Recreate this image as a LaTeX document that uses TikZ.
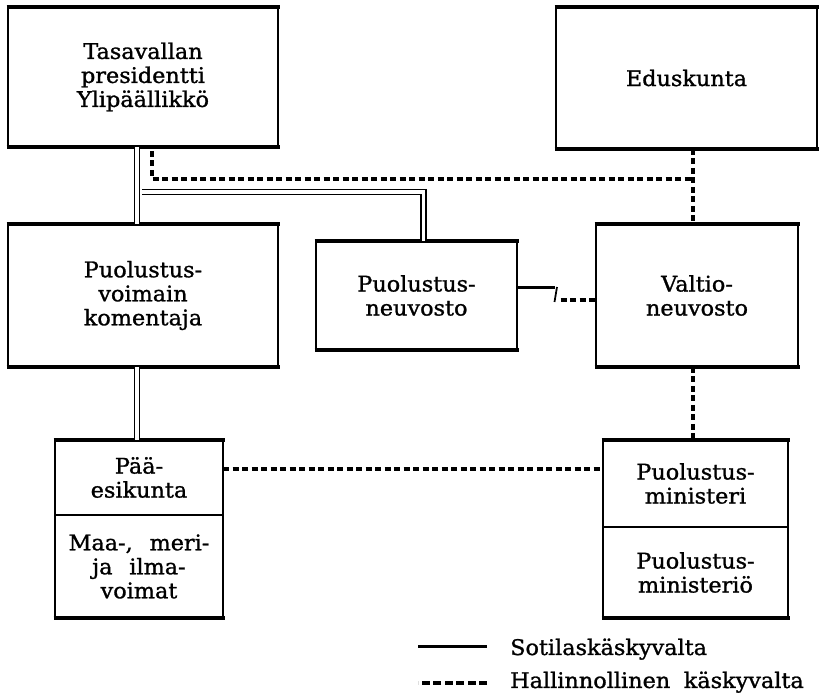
\documentclass[tikz,border=0pt]{standalone}
\usepackage{fontspec}
\setmainfont{DejaVu Serif}[FakeStretch=1.04, BoldFont=DejaVu Serif, BoldFeatures={FakeBold=1.2}]
\begin{document}
\begin{tikzpicture}[x=1pt,y=1pt,
  txt/.style={font=\fontsize{21.5}{24}\selectfont\bfseries},
  box/.style={txt, draw, line width=2.2pt, rectangle, inner sep=0pt, outer sep=0pt, align=center},
  rim/.style={line width=3.6pt},
  dbl/.style={double, double distance=3.6pt, line width=1.6pt},
  dsh/.style={line width=3.2pt, dash pattern=on 6pt off 3.5pt},
  solidln/.style={line width=3pt},
]
\useasboundingbox (0,0) rectangle (820,693);

% organisation boxes
\node[box, minimum width=270, minimum height=140] (pres) at (143,616) {Tasavallan\\presidentti\\Ylipäällikkö};
\node[box, minimum width=261, minimum height=142] (edu) at (686.5,615) {Eduskunta};
\node[box, minimum width=270, minimum height=143] (kom) at (143,397.5) {Puolustus-\\voimain\\komentaja};
\node[box, minimum width=201, minimum height=109] (neu) at (416.5,397.5) {Puolustus-\\neuvosto};
\node[box, minimum width=202, minimum height=143] (valt) at (697,397.5) {Valtio-\\neuvosto};

% two-part boxes
\node[box, minimum width=168, minimum height=75] (pe) at (139,215.5) {Pää-\\esikunta};
\node[box, minimum width=168, minimum height=103] (mmi) at (139,126.5) {Maa-,\hspace{0.45em} meri-\\ja\hspace{0.45em} ilma-\\voimat};
\node[box, minimum width=185, minimum height=87] (pm) at (695.5,209.5) {Puolustus-\\ministeri};
\node[box, minimum width=185, minimum height=91] (pmo) at (695.5,120.5) {Puolustus-\\ministeriö};

% heavier top and bottom rules of the boxes
\foreach \n in {pres,edu,kom,neu,valt,pe,pm}
  \draw[rim] ([xshift=-1.5pt]\n.north west) -- ([xshift=1.5pt]\n.north east);
\foreach \n in {pres,edu,kom,neu,valt,mmi,pmo}
  \draw[rim] ([xshift=-1.5pt]\n.south west) -- ([xshift=1.5pt]\n.south east);

% military chain of command (double lines)
\draw[dbl] ([xshift=-6pt]pres.south) -- ([xshift=-6pt]kom.north);
\coordinate (by) at (0,501);
\path ([xshift=-1pt]pres.south) coordinate (pb);
\draw[dbl] (pb |- by) -| ([xshift=7pt]neu.north);
\path ([xshift=-6pt]kom.south) coordinate (ks);
\draw[dbl] (ks) -- (ks |- pe.north);

% administrative chain of command (dashed lines)
\path ([xshift=6.5pt]edu.south) coordinate (d0);
\coordinate (dy) at (0,514);
\draw[dsh] (d0) -- (d0 |- valt.north);
\draw[dsh] ([xshift=9pt,yshift=-4pt]pres.south) |- (d0 |- dy);
\draw[dsh] (d0 |- valt.south) -- (d0 |- pm.north);
\path ([yshift=8.5pt]pe.east) coordinate (pee);
\draw[dsh] (pee) -- (pee -| pm.west);

% link between the defence council and the government
\draw[solidln] ([yshift=7.5pt]neu.east) -- ++(38,0) coordinate (k1);
\draw[line width=1.8pt] ([xshift=2pt,yshift=1pt]k1) -- ++(-2.5,-15) coordinate (k2);
\coordinate (k3) at ([xshift=6pt,yshift=2pt]k2);
\draw[dsh] (k3) -- (k3 -| valt.west);

% legend
\node[txt, anchor=base west, inner sep=0pt] (leg1) at (510,38) {Sotilaskäskyvalta};
\node[txt, anchor=base west, inner sep=0pt] (leg2) at (510,5) {Hallinnollinen\hspace{0.3em} käskyvalta};
\draw[solidln] ([xshift=-23pt,yshift=8pt]leg1.base west) -- ++(-69,0);
\draw[dsh, dash pattern=on 8pt off 3.5pt] ([xshift=-23pt,yshift=5pt]leg2.base west) -- ++(-69,0);
\end{tikzpicture}
\end{document}
